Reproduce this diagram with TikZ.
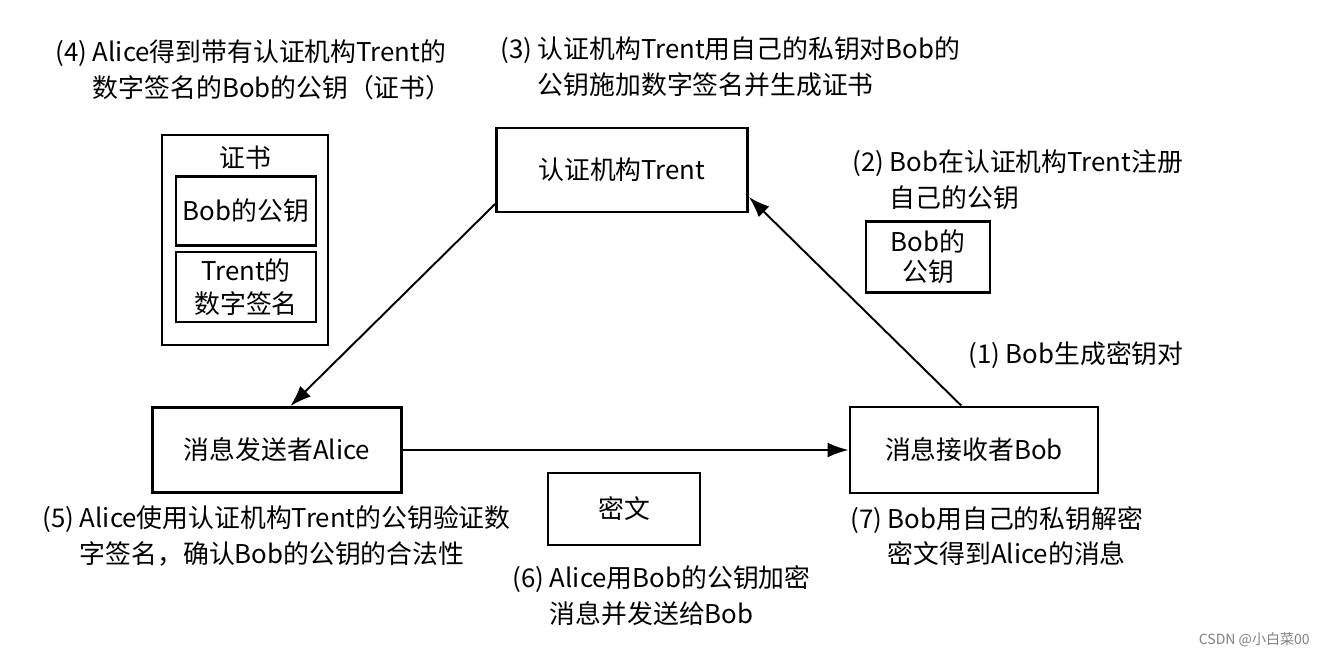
\documentclass[tikz,border=0pt]{standalone}
\usepackage{fontspec}
\setmainfont{Noto Sans CJK SC}
\usetikzlibrary{arrows.meta,positioning}

\begin{document}
\begin{tikzpicture}[x=0.02cm,y=-0.02cm,font=\fontsize{14.7}{20.4}\selectfont]
      \useasboundingbox (0,0) rectangle (1330,658);
      \begin{scope}[every node/.style={rectangle,draw,line width=1.6pt,align=center}]
        \node (T)[minimum width=5.02cm,minimum height=1.68cm] at (622,170) {认证机构Trent};
        \node (A)[minimum width=4.98cm,minimum height=1.7cm] at (277,450) {消息发送者Alice};
        \node (B)[minimum width=4.96cm,minimum height=1.72cm] at (974,450) {消息接收者Bob};
        \node (C)[minimum width=3.04cm,minimum height=1.44cm] at (624,509) {密文};
        \node (K)[minimum width=2.48cm,minimum height=1.42cm,font=\fontsize{14.7}{17}\selectfont] at (928,257) {Bob的\\公钥};
        \node (Cert)[minimum width=3.32cm,minimum height=4.2cm] at (245,240) {};
        \node (P)[minimum width=2.8cm,minimum height=1.38cm] at (246,211) {Bob的公钥};
        \node (S)[minimum width=2.8cm,minimum height=1.4cm,font=\fontsize{14.7}{18.5}\selectfont] at (246,287) {Trent的\\数字签名};
      \end{scope}
      \node (CT) at (245,158) {证书};
      \begin{scope}[every node/.style={align=left,anchor=west,inner sep=0pt}]
        \node (s4) at (55,70) {(4) Alice得到带有认证机构Trent的\\\hphantom{(4) }数字签名的Bob的公钥（证书）};
        \node (s3) at (500,67) {(3) 认证机构Trent用自己的私钥对Bob的\\\hphantom{(3) }公钥施加数字签名并生成证书};
        \node (s2) at (852,180) {(2) Bob在认证机构Trent注册\\\hphantom{(2) }自己的公钥};
        \node (s1) at (968,355) {(1) Bob生成密钥对};
        \node (s5) at (42,536) {(5) Alice使用认证机构Trent的公钥验证数\\\hphantom{(5) }字签名，确认Bob的公钥的合法性};
        \node (s6) at (512,596) {(6) Alice用Bob的公钥加密\\\hphantom{(6) }消息并发送给Bob};
        \node (s7) at (850,536) {(7) Bob用自己的私钥解密\\\hphantom{(7) }密文得到Alice的消息};
      \end{scope}
      \node (W)[anchor=east,text=gray,font=\fontsize{8}{10}\selectfont] at (1316,640) {CSDN @小白菜00};
      \begin{scope}
        [every edge/.style={draw=black,line width=1.1pt,-{Latex[length=12pt,width=8.5pt]}}]
        \path (T.195) edge (A.73);
        \path (B.106) edge (T.-12);
        \path (A.east) edge (B.west);
      \end{scope}
    \end{tikzpicture}
\end{document}
